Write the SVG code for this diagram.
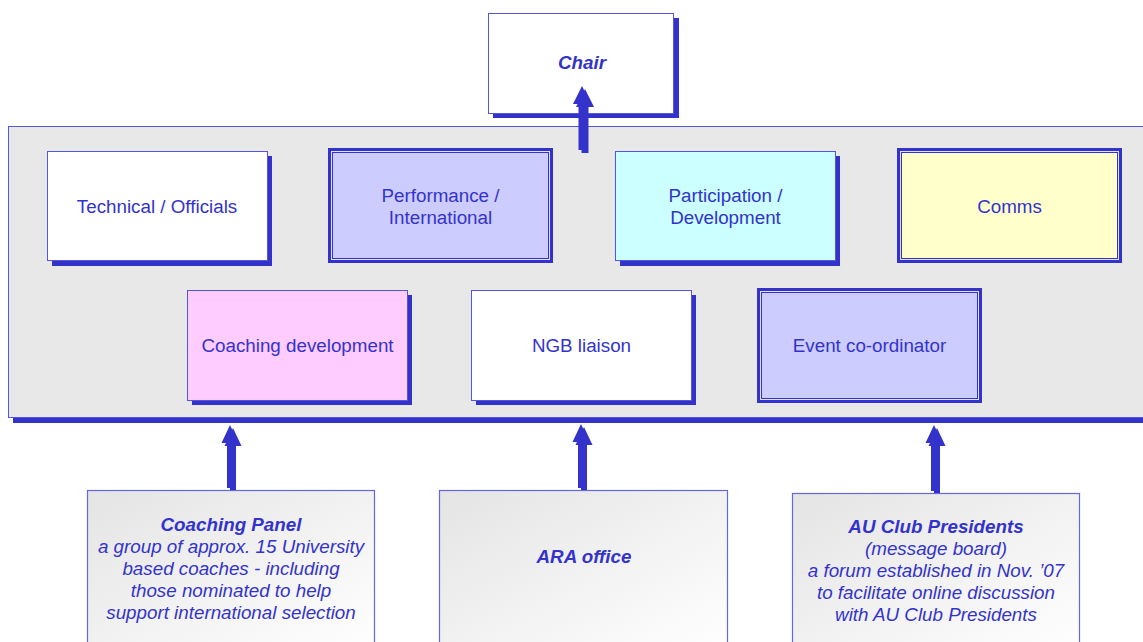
<svg xmlns="http://www.w3.org/2000/svg" width="1143" height="642" viewBox="0 0 1143 642">
<defs>
<linearGradient id="g" x1="0" y1="0" x2="1" y2="1">
<stop offset="0" stop-color="#e4e4e4"/>
<stop offset="1" stop-color="#ffffff"/>
</linearGradient>
</defs>
<style>
text{font-family:"Liberation Sans",Arial,sans-serif;font-size:18.8px;fill:#3333cc;text-anchor:middle}
.t{font-weight:bold;font-style:italic}
.i{font-style:italic}
.sh{fill:#3333cc}
.box{stroke:#5555dd;stroke-width:1}
.dbl{stroke:#3333cc;stroke-width:3}
.in{fill:none;stroke:#3333cc;stroke-width:1}
.gap{fill:none;stroke:#e0e0ff;stroke-width:1}
.arr{fill:#3333cc}
.btm{fill:url(#g);stroke:#6666dd;stroke-width:1.2}
</style>
<rect width="1143" height="642" fill="#ffffff"/>

<g id="chair">
<rect class="sh" x="493" y="18" width="186" height="100"/>
<rect class="box" x="488.5" y="13.5" width="185" height="100" fill="#ffffff"/>
<text class="t" x="582" y="69">Chair</text>
</g>

<g id="panel">
<rect class="sh" x="13" y="131" width="1140" height="292"/>
<rect class="box" x="8.5" y="126.5" width="1140" height="291" fill="#e8e8e8"/>
</g>

<g id="technical">
<rect class="sh" x="52" y="156" width="220" height="110"/>
<rect class="box" x="47.5" y="151.5" width="220" height="109" fill="#ffffff"/>
<text x="157" y="213">Technical / Officials</text>
</g>

<g id="performance">
<rect class="dbl" x="329.5" y="149.5" width="222" height="112" fill="#ccccff"/>
<rect class="gap" x="331.5" y="151.5" width="218" height="108"/>
<rect class="in" x="332.5" y="152.5" width="216" height="106"/>
<text x="440.5" y="202">Performance /</text>
<text x="440.5" y="224">International</text>
</g>

<g id="participation">
<rect class="sh" x="620" y="156" width="220" height="110"/>
<rect class="box" x="615.5" y="151.5" width="220" height="109" fill="#ccffff"/>
<text x="725.5" y="202">Participation /</text>
<text x="725.5" y="224">Development</text>
</g>

<g id="comms">
<rect class="dbl" x="898.5" y="149.5" width="222" height="112" fill="#ffffcc"/>
<rect class="gap" x="900.5" y="151.5" width="218" height="108"/>
<rect class="in" x="901.5" y="152.5" width="216" height="106"/>
<text x="1009.5" y="213">Comms</text>
</g>

<g id="coaching-dev">
<rect class="sh" x="192" y="295" width="220" height="110"/>
<rect class="box" x="187.5" y="290.5" width="220" height="110" fill="#ffccff"/>
<text x="297.5" y="352">Coaching development</text>
</g>

<g id="ngb">
<rect class="sh" x="476" y="295" width="220" height="110"/>
<rect class="box" x="471.5" y="290.5" width="220" height="110" fill="#ffffff"/>
<text x="581.5" y="352">NGB liaison</text>
</g>

<g id="event">
<rect class="dbl" x="758.5" y="289.5" width="222" height="112" fill="#ccccff"/>
<rect class="gap" x="760.5" y="291.5" width="218" height="108"/>
<rect class="in" x="761.5" y="292.5" width="216" height="106"/>
<text x="869.5" y="352">Event co-ordinator</text>
</g>

<g id="coaching-panel">
<rect class="btm" x="87.5" y="490.5" width="287" height="160"/>
<text class="t" x="231" y="531">Coaching Panel</text>
<text class="i" x="231" y="553">a group of approx. 15 University</text>
<text class="i" x="231" y="575">based coaches - including</text>
<text class="i" x="231" y="597">those nominated to help</text>
<text class="i" x="231" y="619">support international selection</text>
</g>

<g id="ara">
<rect class="btm" x="439.5" y="490.5" width="288" height="160"/>
<text class="t" x="584" y="563">ARA office</text>
</g>

<g id="au-club">
<rect class="btm" x="792.5" y="493.5" width="287" height="160"/>
<text class="t" x="936" y="533">AU Club Presidents</text>
<text class="i" x="936" y="555">(message board)</text>
<text class="i" x="936" y="577">a forum established in Nov. ’07</text>
<text class="i" x="936" y="599">to facilitate online discussion</text>
<text class="i" x="936" y="621">with AU Club Presidents</text>
</g>

<g id="connectors">
<path class="arr" d="M582,86 L591,104 L585.5,104 L585.5,150 L578.5,150 L578.5,104 L573,104 Z"/>
<path class="arr" d="M585,89 L594,107 L588.5,107 L588.5,153 L581.5,153 L581.5,107 L576,107 Z"/>

<path class="arr" d="M230,425 L238.5,443 L233,443 L233,488 L227,488 L227,443 L221.5,443 Z"/>
<path class="arr" d="M233,428 L241.5,446 L236,446 L236,490 L230,490 L230,446 L224.5,446 Z"/>

<path class="arr" d="M581,424 L589.5,442 L584,442 L584,488 L578,488 L578,442 L572.5,442 Z"/>
<path class="arr" d="M584,427 L592.5,445 L587,445 L587,490 L581,490 L581,445 L575.5,445 Z"/>

<path class="arr" d="M934,425 L942.5,443 L937,443 L937,491 L931,491 L931,443 L925.5,443 Z"/>
<path class="arr" d="M937,428 L945.5,446 L940,446 L940,493 L934,493 L934,446 L928.5,446 Z"/>
</g>
</svg>
